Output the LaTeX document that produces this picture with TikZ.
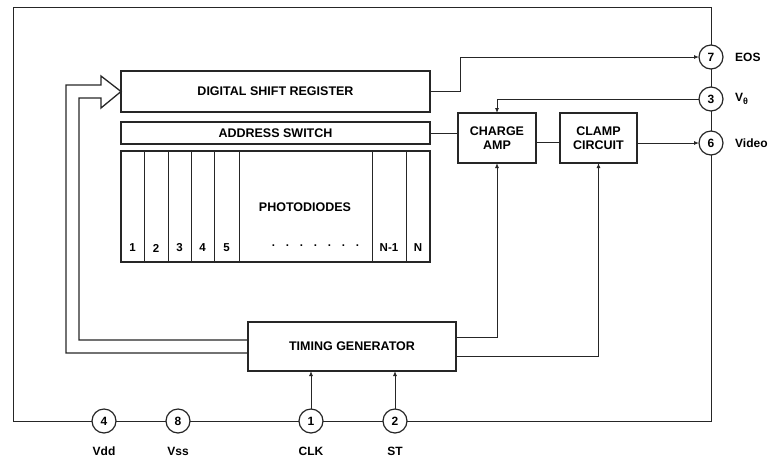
\documentclass[tikz,border=0pt]{standalone}
\usepackage{fontspec}
\setmainfont{Liberation Sans}
\usetikzlibrary{arrows.meta}
\begin{document}
\begin{tikzpicture}[x=1pt,y=-1pt,
  box/.style={draw=black!85, line width=1.2pt, fill=white, inner sep=0pt,
    outer sep=0pt, font=\fontsize{12.5}{14}\selectfont\bfseries, align=center},
  pin/.style={draw=black!85, circle, line width=1.2pt, minimum size=24pt,
    inner sep=0pt, outer sep=0pt, fill=white, font=\fontsize{12}{14}\selectfont\bfseries},
  lbl/.style={font=\fontsize{12}{14}\selectfont\bfseries, inner sep=0pt},
  num/.style={font=\fontsize{11.5}{13}\selectfont\bfseries, inner sep=0pt},
  wire/.style={draw=black!85, line width=0.9pt},
  arr/.style={wire, -{Latex[length=5pt,width=4pt]}},
  bus/.style={draw=black!85, line width=1.3pt, line join=miter}
]
\useasboundingbox (0,0) rectangle (773,459);

% blocks
\node[box, minimum width=309pt, minimum height=41pt, anchor=north west]
  (dsr) at (121,71) {DIGITAL SHIFT REGISTER};
\node[box, minimum width=309pt, minimum height=22pt, anchor=north west]
  (as) at (121,122) {ADDRESS SWITCH};
\node[box, minimum width=309pt, minimum height=111pt, anchor=north west]
  (pd) at (121,151) {};
\node[box, minimum width=78pt, minimum height=50pt, anchor=north west]
  (ca) at (458,113) {CHARGE\\AMP};
\node[box, minimum width=77pt, minimum height=50pt, anchor=north west]
  (cl) at (560,113) {CLAMP\\CIRCUIT};
\node[box, minimum width=208pt, minimum height=49pt, anchor=north west]
  (tg) at (248,322) {TIMING GENERATOR};

% photodiode cells
\foreach \x in {144,168,191,214,239,372,406}
  \draw[draw=black!85, line width=0.9pt] (\x,151) -- (\x,262);
\node[lbl, font=\fontsize{12.5}{14}\selectfont\bfseries] (pdl) at (305,207) {PHOTODIODES};
\node[num] (n1) at (132.5,248) {1};
\node[num] (n2) at (156,248) {2};
\node[num] (n3) at (179.5,248) {3};
\node[num] (n4) at (202.5,248) {4};
\node[num] (n5) at (226.5,248) {5};
\node[num] (ndots) at (315.5,246) {.\hspace{10.8pt}.\hspace{10.8pt}.\hspace{10.8pt}.\hspace{10.8pt}.\hspace{10.8pt}.\hspace{10.8pt}.};
\node[num] (nn1) at (389,248) {N-1};
\node[num] (nn) at (418,248) {N};

% pins
\node[pin] (p7) at (711,57) {7};
\node[pin] (p3) at (711,99) {3};
\node[pin] (p6) at (711,143) {6};
\node[pin] (p4) at (104,421) {4};
\node[pin] (p8) at (178,421) {8};
\node[pin] (p1) at (311,421) {1};
\node[pin] (p2) at (395,421) {2};

% pin labels
\node[lbl, anchor=west] (leos) at (735,57) {EOS};
\node[lbl, anchor=west] (lvg) at (735,99) {V\raisebox{-2.5pt}{\fontsize{9}{10}\selectfont θ}};
\node[lbl, anchor=west] (lvid) at (735,143) {Video};
\node[lbl] (lvdd) at (104,451) {Vdd};
\node[lbl] (lvss) at (178,451) {Vss};
\node[lbl] (lclk) at (311,451) {CLK};
\node[lbl] (lst) at (395,451) {ST};

% outer frame through the pins
\coordinate (ftl) at (13,7);
\coordinate (fbl) at (13,421);
\draw[wire] (p7.north) |- (ftl) -- (fbl) -- (p4.west);
\draw[wire] (p4.east) -- (p8.west);
\draw[wire] (p8.east) -- (p1.west);
\draw[wire] (p1.east) -- (p2.west);
\draw[wire] (p2.east) -| (p6.south);
\draw[wire] (p6.north) -- (p3.south);
\draw[wire] (p3.north) -- (p7.south);

% signal connections
\coordinate (eosk) at (460,0);
\draw[arr] (dsr.east) -- (dsr.east -| eosk) |- (p7.west);
\draw[arr] (p3.west) -| (ca.north);
\draw[wire] (as.east) -- (as.east -| ca.west);
\draw[wire] ([yshift=-4pt]ca.east) -- ([yshift=-4pt]cl.west);
\draw[arr] (cl.east |- p6.west) -- (p6.west);
\draw[arr] ([yshift=9.5pt]tg.east) -| (ca.south);
\draw[arr] ([yshift=-9.5pt]tg.east) -| (cl.south);
\draw[arr] (p1.north) -- (p1.north |- tg.south);
\draw[arr] (p2.north) -- (p2.north |- tg.south);

% hollow bus arrow into the shift register
\coordinate (ba) at (66,85);
\coordinate (bb) at (101,85);
\coordinate (bc) at (101,76);
\coordinate (bd) at (101,108);
\coordinate (be) at (101,98);
\coordinate (bf) at (79,98);
\draw[bus] ([yshift=-6.5pt]tg.west) -| (ba) -- (bb) -- (bc) -- (dsr.west)
  -- (bd) -- (be) -- (bf) |- ([yshift=6.5pt]tg.west);
\end{tikzpicture}
\end{document}
